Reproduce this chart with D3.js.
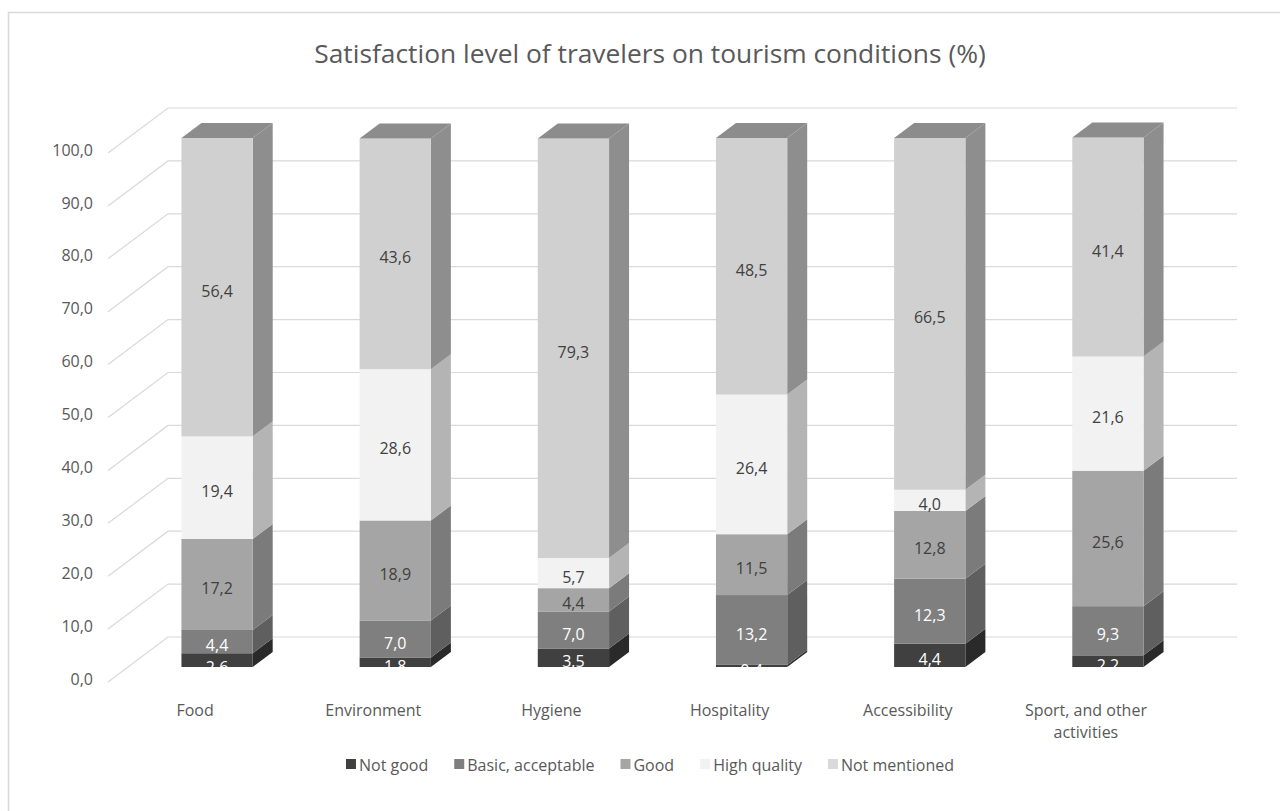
<!DOCTYPE html>
<html>
<head>
<meta charset="utf-8">
<script src="https://cdn.jsdelivr.net/npm/d3@7/dist/d3.min.js"></script>
<style>
  html, body { margin: 0; padding: 0; background: #fff; }
  svg { display: block; }
  text { font-family: "Open Sans", "Noto Sans", sans-serif; }
</style>
</head>
<body>
<svg id="chart" width="1280" height="811"></svg>
<script>
// ---- data ----
const title = "Satisfaction level of travelers on tourism conditions (%)";
const categories = ["Food", "Environment", "Hygiene", "Hospitality", "Accessibility", "Sport, and other activities"];
const seriesNames = ["Not good", "Basic, acceptable", "Good", "High quality", "Not mentioned"];
const notGood        = [2.6, 1.8, 3.5, 0.4, 4.4, 2.2];
const basicAccept    = [4.4, 7.0, 7.0, 13.2, 12.3, 9.3];
const good           = [17.2, 18.9, 4.4, 11.5, 12.8, 25.6];
const highQuality    = [19.4, 28.6, 5.7, 26.4, 4.0, 21.6];
const notMentioned   = [56.4, 43.6, 79.3, 48.5, 66.5, 41.4];
const yTicks = [0, 10, 20, 30, 40, 50, 60, 70, 80, 90, 100];

const seriesValues = [notGood, basicAccept, good, highQuality, notMentioned];
const frontColors = ["#404040", "#7f7f7f", "#a5a5a5", "#f2f2f2", "#d0d0d0"];
const sideColors  = ["#2a2a2a", "#5f5f5f", "#7b7b7b", "#b4b4b4", "#8e8e8e"];
const topColor = "#8c8c8c";
const legendColors = ["#404040", "#7f7f7f", "#a5a5a5", "#f2f2f2", "#d9d9d9"];
const labelColors = ["#ffffff", "#ffffff", "#404040", "#404040", "#404040"];

// ---- geometry ----
const svg = d3.select("#chart");
const fmt = v => d3.format(".1f")(v).replace(".", ",");
const FS = 16;

const frontLeft = 108, frontRight = 1177;
const wallDepth = 60, slope = 0.75;
const barZ0 = 20, barZ1 = 40;
const y = d3.scaleLinear().domain([0, 100]).range([682, 153]);
const x = d3.scaleBand().domain(categories).range([frontLeft, frontRight]).paddingInner(0.6).paddingOuter(0.3);
const P = (px, py, z) => [px + z, py - z * slope];

// outer border
svg.append("rect").attr("x", 8.5).attr("y", 12.5).attr("width", 1290).attr("height", 820)
  .attr("fill", "none").attr("stroke", "#d9d9d9").attr("stroke-width", 1.5);

// title (sized to span the reference width)
const tt = svg.append("text").attr("x", 650).attr("y", 63).attr("text-anchor", "middle")
  .attr("font-size", 26).attr("fill", "#595959").text(title);
const tw = tt.node().getComputedTextLength();
tt.attr("font-size", Math.min(27, 26 * 672 / tw));

// gridlines (left wall diagonals + back wall horizontals)
const grid = svg.append("g").attr("stroke", "#d9d9d9").attr("stroke-width", 1.2).attr("fill", "none");
yTicks.forEach(t => {
  const a = P(frontLeft, y(t), 0), b = P(frontLeft, y(t), wallDepth), c = P(frontRight, y(t), wallDepth);
  grid.append("path").attr("d", d3.line()([a, b, c]));
});

// y tick labels
svg.append("g").selectAll("text").data(yTicks).join("text")
  .attr("x", 93).attr("y", d => y(d) - 3).attr("dy", "0.35em").attr("text-anchor", "end")
  .attr("font-size", FS).attr("fill", "#595959").text(d => fmt(d));

// bars
const bw = x.bandwidth();
const minGap = 22;
categories.forEach((cat, i) => {
  const g = svg.append("g");
  let cum = 0;
  const x0 = x(cat), x1 = x0 + bw;
  const segs = seriesValues.map((arr, s) => {
    const v0 = cum; cum += arr[i];
    return { s, v0, v1: cum, v: arr[i] };
  });
  segs.forEach(seg => {
    const yb = y(seg.v0), yt = y(seg.v1);
    const side = [P(x1, yb, barZ0), P(x1, yb, barZ1), P(x1, yt, barZ1), P(x1, yt, barZ0)];
    g.append("path").attr("d", d3.line()(side) + "Z").attr("fill", sideColors[seg.s]);
    const f0 = P(x0, yt, barZ0), f1 = P(x1, yb, barZ0);
    g.append("rect").attr("x", f0[0]).attr("y", f0[1]).attr("width", f1[0] - f0[0]).attr("height", f1[1] - f0[1])
      .attr("fill", frontColors[seg.s]);
  });
  const yt = y(cum);
  const top = [P(x0, yt, barZ0), P(x1, yt, barZ0), P(x1, yt, barZ1), P(x0, yt, barZ1)];
  g.append("path").attr("d", d3.line()(top) + "Z").attr("fill", topColor);
  // labels: place at segment centre, pushing lower labels down to avoid collisions
  let prevY = -Infinity;
  segs.slice().reverse().forEach(seg => {
    const c = P(x0 + bw / 2, y((seg.v0 + seg.v1) / 2), barZ0);
    let ly = Math.max(c[1] + 4, prevY + minGap);
    prevY = ly;
    g.append("text").attr("x", c[0]).attr("y", ly).attr("dy", "0.35em").attr("text-anchor", "middle")
      .attr("font-size", FS).attr("fill", labelColors[seg.s]).text(fmt(seg.v));
  });
});

// category labels (wrapped)
categories.forEach(cat => {
  const cx = x(cat) + bw / 2 - 2;
  const words = cat.split(" ");
  const lines = [];
  let line = "";
  words.forEach(w => {
    const test = line ? line + " " + w : w;
    if (test.length > 17 && line) { lines.push(line); line = w; } else line = test;
  });
  lines.push(line);
  const t = svg.append("text").attr("x", cx).attr("y", 716).attr("text-anchor", "middle")
    .attr("font-size", FS).attr("fill", "#595959");
  lines.forEach((l, k) => t.append("tspan").attr("x", cx).attr("dy", k === 0 ? 0 : 22).text(l));
});

// legend (centered)
const legend = svg.append("g").attr("transform", "translate(0,766)");
let lx = 0;
const items = seriesNames.map((n, s) => {
  const r = legend.append("rect").attr("y", -7).attr("width", 10).attr("height", 10).attr("fill", legendColors[s]);
  const t = legend.append("text").attr("y", 0).attr("dy", "0.3em").attr("font-size", FS).attr("fill", "#595959").text(n);
  const w = t.node().getComputedTextLength();
  const item = { r, t, x: lx };
  lx += 13 + w + 26;
  return item;
});
const total = lx - 26;
const startX = 650 - total / 2;
items.forEach(it => {
  it.r.attr("x", startX + it.x);
  it.t.attr("x", startX + it.x + 13);
});
</script>
</body>
</html>
